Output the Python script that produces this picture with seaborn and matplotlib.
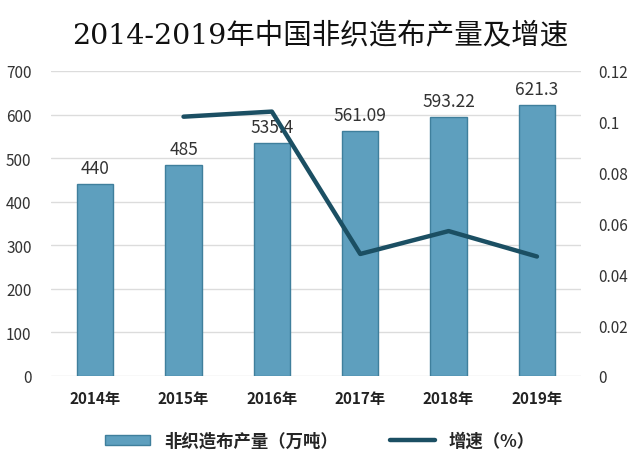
import matplotlib
matplotlib.use("Agg")
import matplotlib.pyplot as plt
import seaborn as sns
import pandas as pd
from matplotlib.lines import Line2D
from matplotlib.patches import Patch

years = ["2014年", "2015年", "2016年", "2017年", "2018年", "2019年"]
output = [440, 485, 535.4, 561.09, 593.22, 621.3]
output_labels = ["440", "485", "535.4", "561.09", "593.22", "621.3"]
growth_years = ["2015年", "2016年", "2017年", "2018年", "2019年"]
growth = [0.102, 0.104, 0.048, 0.057, 0.047]

sns.set_theme(style="white")
plt.rcParams['font.family'] = ['Noto Sans CJK SC', 'DejaVu Sans']

fig = plt.figure(figsize=(6.4, 4.64), dpi=100)
ax = fig.add_axes([0.0797, 0.1875, 0.8283, 0.6575])

df = pd.DataFrame({"year": years, "output": output})
sns.barplot(data=df, x="year", y="output", ax=ax, color="#5e9fbe",
            saturation=1, width=0.41, edgecolor="#3f7f9c", linewidth=1)
ax.set_ylim(0, 700)
ax.set_xlim(-0.5, 5.5)
ax.set_yticks(range(0, 701, 100))
ax.yaxis.grid(True, color="#dcdcdc", linewidth=1)
ax.set_axisbelow(True)
for s in ax.spines.values():
    s.set_visible(False)
ax.set_xlabel("")
ax.set_ylabel("")
ax.tick_params(axis="y", labelsize=11, labelcolor="#333333", length=0, pad=14)
ax.tick_params(axis="x", labelsize=11, labelcolor="#222222", length=0, pad=10)
for lbl in ax.get_xticklabels():
    lbl.set_fontweight("bold")

for i, (v, t) in enumerate(zip(output, output_labels)):
    ax.text(i, v + 16, t, ha="center", va="bottom", fontsize=12.5, color="#333333")

ax2 = ax.twinx()
gdf = pd.DataFrame({"x": [years.index(y) for y in growth_years], "g": growth})
sns.lineplot(data=gdf, x="x", y="g", ax=ax2, color="#1b4f63", linewidth=3.2)
ax2.set_ylim(0, 0.12)
ax2.set_yticks([0, 0.02, 0.04, 0.06, 0.08, 0.1, 0.12])
ax2.set_yticklabels(["0", "0.02", "0.04", "0.06", "0.08", "0.1", "0.12"])
ax2.tick_params(axis="y", labelsize=11, labelcolor="#333333", length=0, pad=12)
ax2.set_xlabel("")
ax2.set_ylabel("")
for s in ax2.spines.values():
    s.set_visible(False)
ax2.set_xlim(-0.5, 5.5)

fig.text(0.5, 0.92, "2014-2019年中国非织造布产量及增速", ha="center", va="center",
         fontsize=20.5, color="#111111", fontweight="medium",
         family=['DejaVu Serif', 'Noto Sans CJK SC'])

handles = [Patch(facecolor="#5e9fbe", edgecolor="#3f7f9c"),
           Line2D([0], [0], color="#1b4f63", linewidth=3.2)]
fig.legend(handles, ["非织造布产量（万吨）", "增速（%）"], loc="center",
           bbox_to_anchor=(0.5, 0.048), ncol=2, frameon=False,
           prop={"size": 12.5, "weight": "bold"},
           handlelength=2.6, handleheight=0.5, columnspacing=3)

fig.savefig("out.png", dpi=100)
